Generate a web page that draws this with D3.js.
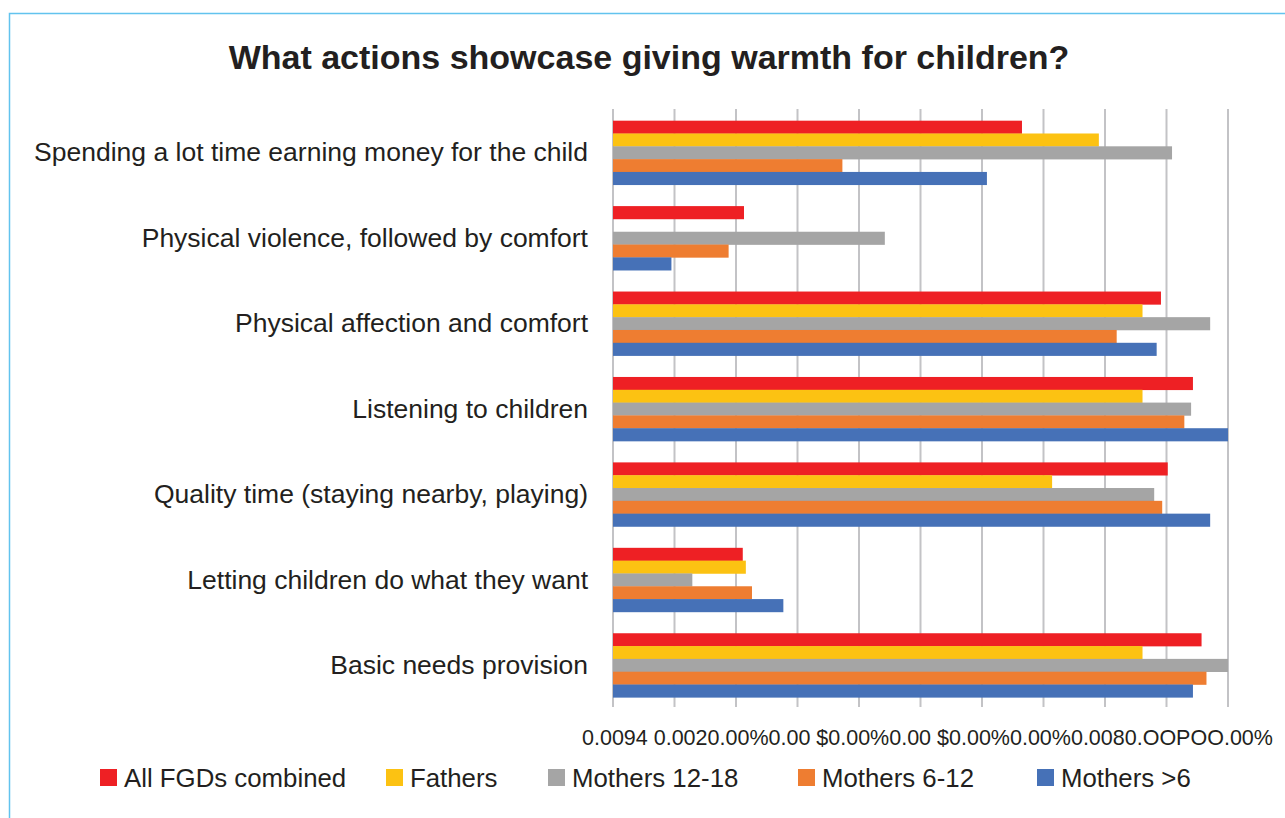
<!DOCTYPE html>
<html>
<head>
<meta charset="utf-8">
<script src="https://cdn.jsdelivr.net/npm/d3@7"></script>
<style>
  body { margin: 0; background: #fff; }
  svg { display: block; font-family: "Liberation Sans", Arial, sans-serif; }
</style>
</head>
<body>
<div id="chart"></div>
<script>
// Data (percent)
const categories = [
  "Spending a lot time earning money for the child",
  "Physical violence, followed by comfort",
  "Physical affection and comfort",
  "Listening to children",
  "Quality time (staying nearby, playing)",
  "Letting children do what they want",
  "Basic needs provision"
];
const seriesNames = ["All FGDs combined", "Fathers", "Mothers 12-18", "Mothers 6-12", "Mothers >6"];
const allFGDs = [66.5, 21.3, 89.1, 94.3, 90.2, 21.1, 95.7];
const fathers = [79.0, 0, 86.1, 86.1, 71.4, 21.6, 86.1];
const mothers1218 = [90.9, 44.2, 97.1, 94.0, 88.0, 12.9, 100];
const mothers612 = [37.3, 18.8, 81.9, 92.9, 89.3, 22.6, 96.5];
const mothersUnder6 = [60.8, 9.5, 88.4, 100, 97.1, 27.7, 94.3];
const xTicks = [0, 10, 20, 30, 40, 50, 60, 70, 80, 90, 100];
// the x-axis labels are printed garbled in the source, kept as they appear
const axisLabelText = "0.0094 0.0020.00%0.00 $0.00%0.00 $0.00%0.00%0.0080.OOPOO.00%";
const title = "What actions showcase giving warmth for children?";

const seriesValues = [allFGDs, fathers, mothers1218, mothers612, mothersUnder6];
const colors = ["#ee2024", "#fcc212", "#a5a5a5", "#ee7d31", "#4671b7"];

const width = 1285;
const height = 818;
const plot = { left: 613, right: 1228, top: 110, bottom: 708 };

const svg = d3.select("#chart").append("svg")
  .attr("width", width)
  .attr("height", height);

// light blue frame (only top + left visible in the source)
svg.append("path")
  .attr("d", `M${width + 5},13.5 H9.5 V${height + 5}`)
  .attr("fill", "none")
  .attr("stroke", "#62c3ee")
  .attr("stroke-width", 1.5);

svg.append("text")
  .attr("x", 649)
  .attr("y", 69)
  .attr("text-anchor", "middle")
  .attr("font-size", 34)
  .attr("font-weight", "bold")
  .attr("fill", "#231f20")
  .text(title);

const x = d3.scaleLinear().domain([0, 100]).range([plot.left, plot.right]);
const y = d3.scaleBand().domain(categories).range([plot.top, plot.bottom])
  .paddingInner(0.25).paddingOuter(0.125);
const ySub = d3.scaleBand().domain(d3.range(seriesNames.length)).range([0, y.bandwidth()]);

// gridlines
svg.append("g")
  .selectAll("line")
  .data(xTicks)
  .join("line")
  .attr("x1", d => x(d)).attr("x2", d => x(d))
  .attr("y1", plot.top - 1).attr("y2", plot.bottom - 1)
  .attr("stroke", "#c3c3c6")
  .attr("stroke-width", 2);

// bars
const groups = svg.append("g")
  .selectAll("g")
  .data(categories)
  .join("g")
  .attr("transform", d => `translate(0,${y(d)})`);

groups.selectAll("rect")
  .data((d, i) => seriesValues.map((vals, s) => ({ s, v: vals[i] })))
  .join("rect")
  .attr("x", x(0))
  .attr("y", d => ySub(d.s))
  .attr("width", d => x(d.v) - x(0))
  .attr("height", ySub.bandwidth() + 0.3)
  .attr("fill", d => colors[d.s]);

// category labels
svg.append("g")
  .selectAll("text")
  .data(categories)
  .join("text")
  .attr("x", 588)
  .attr("y", d => y(d) + y.bandwidth() / 2)
  .attr("dy", "0.33em")
  .attr("text-anchor", "end")
  .attr("font-size", 26.5)
  .attr("fill", "#231f20")
  .text(d => d);

// x axis labels
svg.append("text")
  .attr("x", 582)
  .attr("y", 745)
  .attr("font-size", 21.5)
  .attr("fill", "#231f20")
  .text(axisLabelText);

// legend
const legendX = [100, 386, 548, 798, 1037];
const legend = svg.append("g")
  .selectAll("g")
  .data(seriesNames)
  .join("g")
  .attr("transform", (d, i) => `translate(${legendX[i]},769)`);
legend.append("rect")
  .attr("width", 17).attr("height", 17)
  .attr("fill", (d, i) => colors[i]);
legend.append("text")
  .attr("x", 24)
  .attr("y", 8.5)
  .attr("dy", "0.36em")
  .attr("font-size", 25.8)
  .attr("fill", "#231f20")
  .text(d => d);
</script>
</body>
</html>
